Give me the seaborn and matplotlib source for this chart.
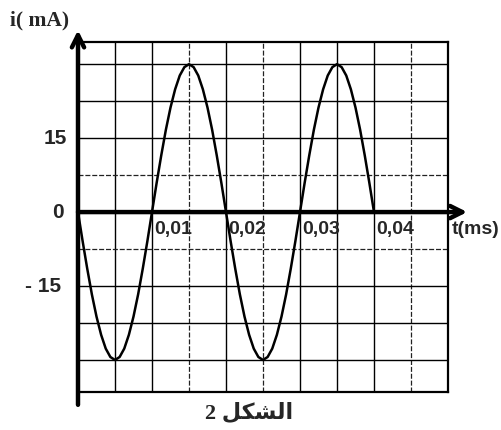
import numpy as np
import matplotlib
matplotlib.use('Agg')
import matplotlib.pyplot as plt
import seaborn as sns

t_ms = np.linspace(0, 0.04, 65)
i_mA = [0, -5.9, -11.5, -16.7, -21.2, -24.9, -27.7, -29.4, -30, -29.4, -27.7, -24.9, -21.2, -16.7, -11.5, -5.9,
        0, 5.9, 11.5, 16.7, 21.2, 24.9, 27.7, 29.4, 30, 29.4, 27.7, 24.9, 21.2, 16.7, 11.5, 5.9,
        0, -5.9, -11.5, -16.7, -21.2, -24.9, -27.7, -29.4, -30, -29.4, -27.7, -24.9, -21.2, -16.7, -11.5, -5.9,
        0, 5.9, 11.5, 16.7, 21.2, 24.9, 27.7, 29.4, 30, 29.4, 27.7, 24.9, 21.2, 16.7, 11.5, 5.9, 0]

x_tick_pos = [0.01, 0.02, 0.03, 0.04]
x_tick_labels = ['0,01', '0,02', '0,03', '0,04']
y_tick_pos = [15, 0, -15]
y_tick_labels = ['15', '0', '- 15']

# caption "الشكل 2" written in shaped (presentation) forms, visual order
caption = '2 ' + '\uFEDE\uFEDC\uFEB8\uFEDF\uFE8D'

sns.set_style('white')
plt.rcParams['font.family'] = ['Liberation Sans', 'DejaVu Sans']

fig = plt.figure(figsize=(5.01, 4.30), dpi=100)
ax = fig.add_axes([78 / 501, 38 / 430, 370 / 501, 350 / 430])
ax.set_xlim(0, 0.05)
ax.set_ylim(-36.5, 34.5)

# grid: solid lines on the even divisions, dashed on the odd ones
ax.set_xticks([0.01, 0.02, 0.03, 0.04, 0.005, 0.035])
ax.set_xticks([0.015, 0.025, 0.045], minor=True)
ax.set_yticks([-30, -15, 15, 30, 22.5, -22.5])
ax.set_yticks([-7.5, 7.5], minor=True)
ax.grid(which='major', color='black', lw=1.0, ls='-')
ax.grid(which='minor', color='#222222', lw=0.9, ls=(0, (4, 1.5)))
ax.tick_params(which='both', length=0, labelbottom=False, labelleft=False)

for side in ['top', 'right', 'bottom']:
    ax.spines[side].set_color('black')
    ax.spines[side].set_linewidth(1.6)
ax.spines['left'].set_visible(False)

sns.lineplot(x=t_ms, y=i_mA, color='black', lw=1.8, ax=ax, zorder=5)

# axes with arrow heads
ax.annotate('', xy=(0, 36.9), xytext=(0, -39.1), annotation_clip=False,
            arrowprops=dict(arrowstyle='->', lw=3.2, color='black', mutation_scale=22,
                            shrinkA=0, shrinkB=0))
ax.annotate('', xy=(0.0526, 0), xytext=(0, 0), annotation_clip=False,
            arrowprops=dict(arrowstyle='->', lw=3.2, color='black', mutation_scale=22,
                            shrinkA=0, shrinkB=0))

for pos, lab in zip(x_tick_pos, x_tick_labels):
    ax.text(pos + 0.0003, -3.6, lab, ha='left', va='center', fontsize=14, fontweight='bold')
for pos, lab in zip(y_tick_pos, y_tick_labels):
    ax.text(-0.0015 - 0.0004 * abs(pos == 0) - 0.0008 * (pos < 0), pos, lab,
            ha='right', va='center', fontsize=15, fontweight='bold')
ax.text(0.0505, -3.6, 't(ms)', ha='left', va='center', fontsize=14, fontweight='bold')

fig.text(10 / 501, 1 - 20 / 430, 'i( mA)', ha='left', va='center', fontsize=15.5,
         fontweight='bold', family=['Liberation Serif'])
fig.text(249 / 501, 1 - 413 / 430, caption, ha='center', va='center', fontsize=16,
         fontweight='bold', family=['Liberation Serif', 'DejaVu Sans'])

plt.savefig('out.png', dpi=100)
